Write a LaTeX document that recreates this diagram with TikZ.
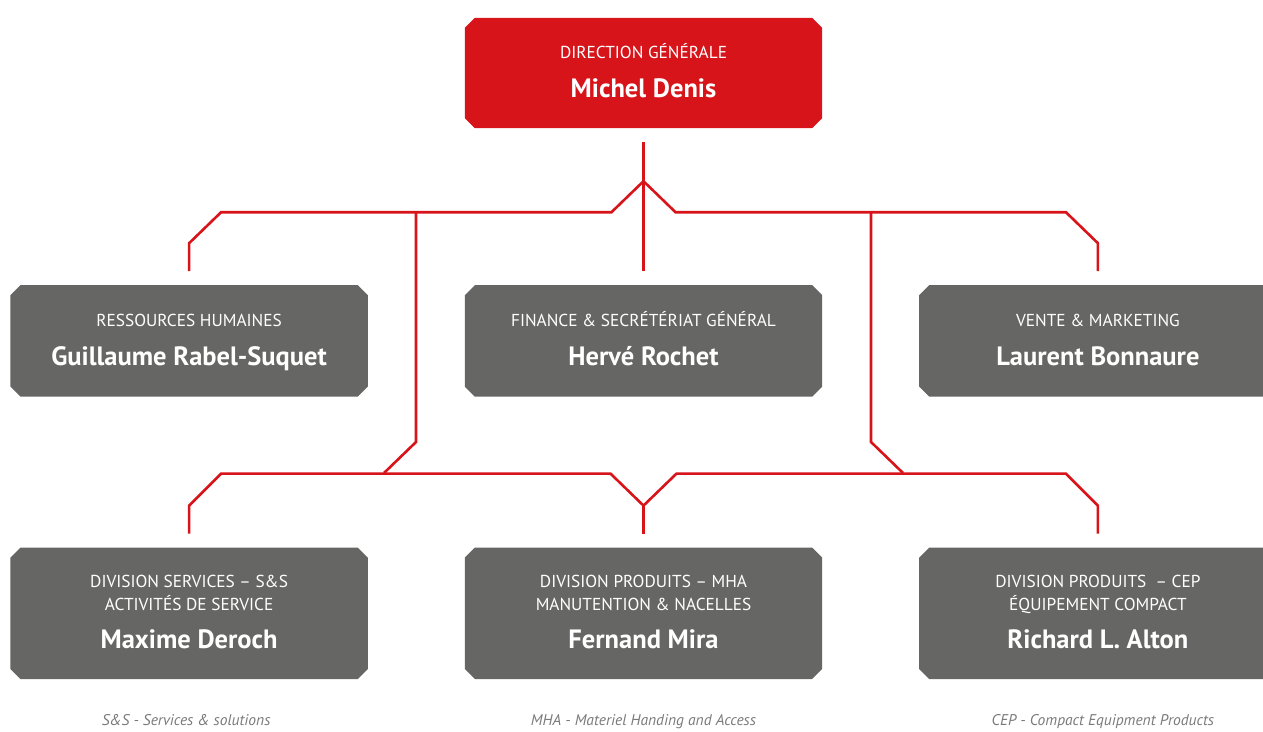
\documentclass[tikz,border=0pt]{standalone}
\usepackage{fontspec}
\setmainfont{PT Sans}
\usetikzlibrary{positioning,backgrounds}

\definecolor{dgred}{HTML}{D7141A}
\definecolor{boxgrey}{HTML}{666664}
\definecolor{notegrey}{HTML}{7A7A7A}

\newcommand{\unitfont}{\fontsize{17.3}{23}\selectfont}
\newcommand{\headfont}{\fontsize{26.5}{30}\selectfont\bfseries}
\newcommand{\unitline}{\vphantom{ÉQ}}
\newcommand{\who}[1]{\headfont\vphantom{Égq}#1}

\begin{document}
\begin{tikzpicture}[
  x=1pt, y=-1pt, node distance=157pt and 97pt,
  post/.style={rectangle,text=white,align=center,inner sep=0pt,font=\unitfont,
    minimum width=357pt,minimum height=111pt},
  toppost/.style={post,minimum height=110pt},
  divpost/.style={post,minimum height=131pt},
  link/.style={draw=dgred,line width=2.6pt,line join=miter},
  note/.style={font=\fontsize{15.5}{17}\selectfont\itshape,text=notegrey}]
\useasboundingbox (0,0) rectangle (1263,731);
\clip (0,0) rectangle (1263,731);

\node[toppost] (dg) at (643.5,73) {\unitline DIRECTION GÉNÉRALE\\[12pt]\who{Michel Denis}};
\node[post,below=of dg] (fin) {\unitline FINANCE \& SECRÉTÉRIAT GÉNÉRAL\\[12pt]\who{Hervé Rochet}};
\node[post,left=of fin] (rh) {\unitline RESSOURCES HUMAINES\\[12pt]\who{Guillaume Rabel-Suquet}};
\node[post,right=of fin] (vm) {\unitline VENTE \& MARKETING\\[12pt]\who{Laurent Bonnaure}};
\node[divpost,below=151pt of fin] (mha) {\unitline DIVISION PRODUITS -- MHA\\ \unitline MANUTENTION \& NACELLES\\[11pt]\who{Fernand Mira}};
\node[divpost,left=of mha] (ss) {\unitline DIVISION SERVICES -- S\&S\\ \unitline ACTIVITÉS DE SERVICE\\[11pt]\who{Maxime Deroch}};
\node[divpost,right=of mha] (cep) {\unitline DIVISION PRODUITS\ \ -- CEP\\ \unitline ÉQUIPEMENT COMPACT\\[11pt]\who{Richard L. Alton}};

\node[note,below=32pt of ss,xshift=-3pt] (ssnote) {S\&S - Services \& solutions};
\node[note,below=32pt of mha] (mhanote) {MHA - Materiel Handing and Access};
\node[note,below=32pt of cep,xshift=5pt] (cepnote) {CEP - Compact Equipment Products};

% boxes with cut corners
\begin{scope}[on background layer]
\foreach \n/\c in {dg/dgred,rh/boxgrey,fin/boxgrey,vm/boxgrey,ss/boxgrey,mha/boxgrey,cep/boxgrey}
  \fill[\c] ([xshift=10pt]\n.north west) -- ([xshift=-10pt]\n.north east) -- ([yshift=-10pt]\n.north east)
    -- ([yshift=10pt]\n.south east) -- ([xshift=-10pt]\n.south east) -- ([xshift=10pt]\n.south west)
    -- ([yshift=10pt]\n.south west) -- ([yshift=-10pt]\n.north west) -- cycle;
\end{scope}

% entry points and knees above each box
\coordinate (hub) at ([yshift=-53pt]dg.south);
\foreach \n in {rh,fin,vm,ss,mha,cep}{
  \coordinate (\n-in) at ([yshift=14pt]\n.north);
  \coordinate (\n-knee) at ([yshift=42pt]\n.north);
}
\coordinate (splitL) at (416,212);
\coordinate (splitR) at (871,212);

% direction to first line
\draw[link] ([yshift=-14pt]dg.south) -- (fin-in);
\draw[link] (hub) -- ++(-32,31) -- ([shift={(32,-31)}]rh-knee) -- (rh-knee) -- (rh-in);
\draw[link] (hub) -- ++(32,31) -- ([shift={(-32,-31)}]vm-knee) -- (vm-knee) -- (vm-in);

% divisions
\draw[link] (splitL) -- ++(0,230) -- ++(-32,31);
\draw[link] (splitR) -- ++(0,230) -- ++(32,31);
\draw[link] (ss-in) -- (ss-knee) -- ++(32,-32) -- ([shift={(-33,-32)}]mha-knee) -- (mha-knee)
  -- ([shift={(33,-32)}]mha-knee) -- ([shift={(-32,-32)}]cep-knee) -- (cep-knee) -- (cep-in);
\draw[link] (mha-knee) -- (mha-in);
\end{tikzpicture}
\end{document}
